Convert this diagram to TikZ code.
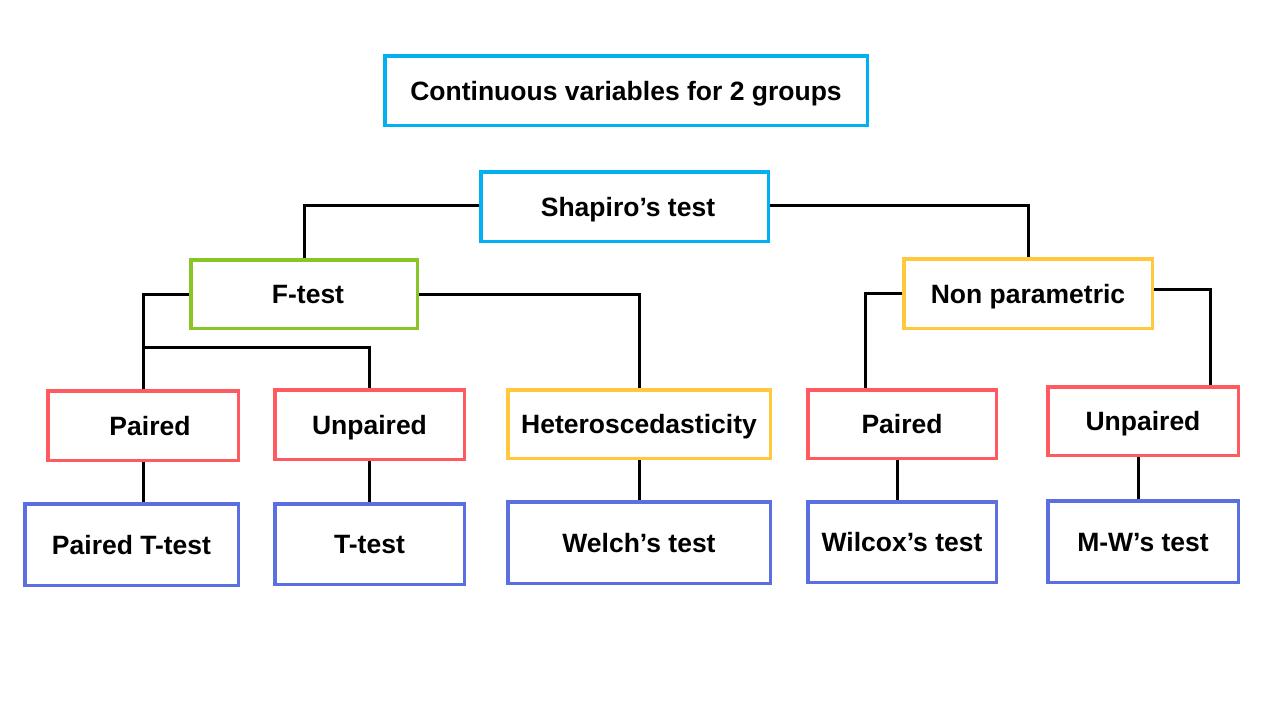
\documentclass[tikz,border=0pt]{standalone}
\usepackage{fontspec}
\setmainfont{Liberation Sans}
\usetikzlibrary{positioning}
\definecolor{ccyan}{HTML}{00B0F0}
\definecolor{cgreen}{HTML}{88C628}
\definecolor{cred}{HTML}{FF5A60}
\definecolor{cyellow}{HTML}{FFC83D}
\definecolor{cblue}{HTML}{5B6FE1}
\begin{document}
\begin{tikzpicture}[x=1pt,y=-1pt,
  box/.style={draw, line width=3.5pt, rectangle, inner sep=0pt, fill=white,
    font=\fontsize{26.5}{30}\selectfont\bfseries, text height=19pt, text depth=0pt},
  conn/.style={draw=black, line width=3pt}]
\useasboundingbox (0,0) rectangle (1280,720);
\fill[white] (0,0) rectangle (1280,720);
% nodes
\node[box, draw=ccyan, minimum width=482.5pt, minimum height=69.5pt] (title) at (626,90.5) {Continuous variables for 2 groups};
\node[box, draw=ccyan, minimum width=287.5pt, minimum height=69.5pt] (shap) at (624.5,206.5) {\hspace{7pt}Shapiro’s test};
\node[box, draw=cgreen, minimum width=226.5pt, minimum height=68.5pt] (ftest) at (304,294) {\hspace{8pt}F-test};
\node[box, draw=cyellow, minimum width=248.5pt, minimum height=69.5pt] (np) at (1028,293.5) {Non parametric};
\node[box, draw=cred, minimum width=190.5pt, minimum height=69.5pt] (pl) at (143,425.5) {\hspace{14pt}Paired};
\node[box, draw=cred, minimum width=189.5pt, minimum height=69.5pt] (up) at (369.5,424.5) {Unpaired};
\node[box, draw=cyellow, minimum width=262.5pt, minimum height=68.5pt] (het) at (639,424) {Heteroscedasticity};
\node[box, draw=cred, minimum width=188.5pt, minimum height=68.5pt] (pr) at (902,424) {Paired};
\node[box, draw=cred, minimum width=190.5pt, minimum height=68.5pt] (ur) at (1143,421) {Unpaired};
\node[box, draw=cblue, minimum width=213.5pt, minimum height=81.5pt] (ptt) at (131.5,544.5) {Paired T-test};
\node[box, draw=cblue, minimum width=189.5pt, minimum height=80.5pt] (tt) at (369.5,544) {T-test};
\node[box, draw=cblue, minimum width=262.5pt, minimum height=81.5pt] (welch) at (639,542.5) {Welch’s test};
\node[box, draw=cblue, minimum width=188.5pt, minimum height=80.5pt] (wil) at (902,542) {Wilcox’s test};
\node[box, draw=cblue, minimum width=190.5pt, minimum height=81.5pt] (mw) at (1143,541.5) {M-W’s test};
% connectors
\draw[conn] ([yshift=1.5pt]shap.west) -| (ftest.north);
\draw[conn] ([yshift=1.5pt]shap.east) -| (np.north);
\draw[conn] (ftest.west) -| (pl.north);
\coordinate (br) at (143,347);
\draw[conn] (br) -| (up.north);
\draw[conn] (ftest.east) -| (het.north);
\draw[conn] (np.west) -| ([xshift=-37pt]pr.north);
\draw[conn] ([yshift=4.5pt]np.east) -| ([xshift=67pt]ur.north);
\draw[conn] (pl.south) -- (pl.south |- ptt.north);
\draw[conn] (up.south) -- (tt.north);
\draw[conn] (het.south) -- (welch.north);
\draw[conn] ([xshift=-5pt]pr.south) -- ([xshift=-5pt]wil.north);
\draw[conn] ([xshift=-5pt]ur.south) -- ([xshift=-5pt]mw.north);
\end{tikzpicture}
\end{document}
